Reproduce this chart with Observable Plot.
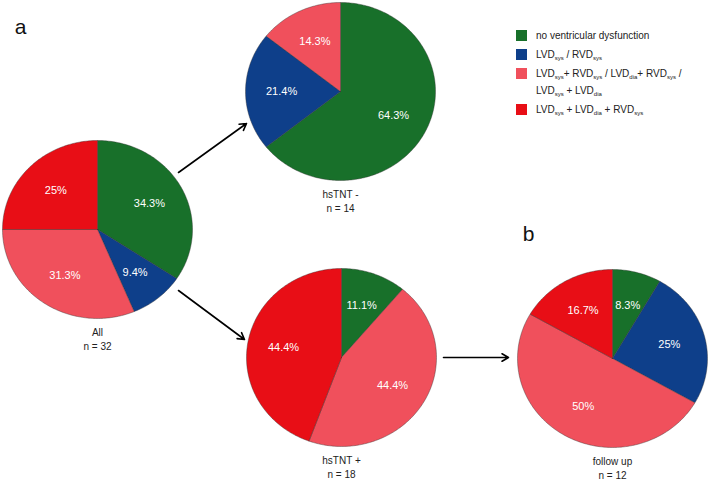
<!DOCTYPE html>
<html>
<head>
<meta charset="utf-8">
<script src="https://cdn.jsdelivr.net/npm/d3@7"></script>
<script src="https://cdn.jsdelivr.net/npm/@observablehq/plot@0.6"></script>
<style>
  html, body { margin: 0; padding: 0; background: #fff; }
  #wrap { position: relative; width: 708px; height: 480px; font-family: "Liberation Sans", Arial, sans-serif; }
  #legend { position: absolute; left: 516px; top: 27px; font-size: 10px; color: #222; line-height: 17px; }
  .row { display: flex; align-items: flex-start; margin-bottom: 2px; }
  .sw { width: 11px; height: 11px; margin-top: 3px; margin-right: 9px; flex: none; }
  sub { font-size: 6px; vertical-align: -2px; line-height: 0; }
</style>
</head>
<body>
<div id="wrap"></div>
<script>
// ---- data ----
const categories = ["no ventricular dysfunction", "LVDsys / RVDsys", "LVDsys + RVDsys / LVDdia + RVDsys / LVDsys + LVDdia", "LVDsys + LVDdia + RVDsys"];
const colors = ["#18702a", "#0e3f8a", "#f0505c", "#e80e16"];
const groups = ["All", "hsTNT -", "hsTNT +", "follow up"];
const groupN = [32, 14, 18, 12];
const allValues = [34.3, 9.4, 31.3, 25];
const hsTNTnegValues = [64.3, 21.4, 14.3, 0];
const hsTNTposValues = [11.1, 0, 44.4, 44.4];
const followUpValues = [8.3, 25, 50, 16.7];
const groupValues = [allValues, hsTNTnegValues, hsTNTposValues, followUpValues];
const panelLetters = ["a", "b"];

// ---- layout (pixel space) ----
const W = 708, H = 480;
const centers = [[97, 229], [340, 91], [341, 357], [612, 358]];
const RX = 95, RY = 89;
const arrows = [
  {x1: 178, y1: 172, x2: 246, y2: 123},
  {x1: 178, y1: 290, x2: 244, y2: 339},
  {x1: 443, y1: 357, x2: 508, y2: 357}
];
const letterPos = [[20, 27], [528, 234]];

// ---- build wedges ----
const wedges = [], labels = [], captions = [];
groups.forEach((g, gi) => {
  const [cx, cy] = centers[gi];
  const vals = groupValues[gi];
  const total = d3.sum(vals);
  let acc = 0;
  vals.forEach((v, ci) => {
    if (v <= 0) return;
    const a0 = acc / total * 2 * Math.PI;
    acc += v;
    const a1 = acc / total * 2 * Math.PI;
    const id = g + "|" + ci;
    wedges.push({id, cat: categories[ci], x: cx, y: cy});
    const steps = Math.max(2, Math.ceil((a1 - a0) / (Math.PI / 180)));
    for (let s = 0; s <= steps; s++) {
      const a = a0 + (a1 - a0) * s / steps;
      wedges.push({id, cat: categories[ci], x: cx + RX * Math.sin(a), y: cy - RY * Math.cos(a)});
    }
    wedges.push({id, cat: categories[ci], x: cx, y: cy});
    const am = (a0 + a1) / 2;
    labels.push({x: cx + 0.62 * RX * Math.sin(am), y: cy - 0.62 * RY * Math.cos(am), text: v + "%"});
  });
  captions.push({x: cx, y: cy + RY + 14, text: g});
  captions.push({x: cx, y: cy + RY + 28, text: "n = " + groupN[gi]});
});
const letters = panelLetters.map((t, i) => ({x: letterPos[i][0], y: letterPos[i][1], text: t}));

const font = "Liberation Sans, Arial, sans-serif";
const chart = Plot.plot({
  width: W, height: H, margin: 0,
  x: {domain: [0, W], range: [0, W], axis: null},
  y: {domain: [0, H], range: [0, H], axis: null},
  color: {domain: categories, range: colors},
  style: {fontFamily: font, background: "white"},
  marks: [
    Plot.line(wedges, {x: "x", y: "y", z: "id", fill: "cat", stroke: "#333", strokeWidth: 0.5, strokeOpacity: 0.8, curve: "linear"}),
    Plot.text(labels, {x: "x", y: "y", text: "text", fill: "white", fontSize: 11}),
    Plot.text(captions, {x: "x", y: "y", text: "text", fill: "#222", fontSize: 10}),
    Plot.text(letters, {x: "x", y: "y", text: "text", fill: "#111", fontSize: 21}),
    Plot.arrow(arrows, {x1: "x1", y1: "y1", x2: "x2", y2: "y2", stroke: "black", strokeWidth: 1.6, headLength: 7, bend: 0})
  ]
});
const wrap = document.getElementById("wrap");
wrap.appendChild(chart);

// legend (HTML for subscripts)
const legendHTML = [
  "no ventricular dysfunction",
  "LVD<sub>sys</sub> / RVD<sub>sys</sub>",
  "LVD<sub>sys</sub>+ RVD<sub>sys</sub> / LVD<sub>dia</sub>+ RVD<sub>sys</sub> /<br>LVD<sub>sys</sub> + LVD<sub>dia</sub>",
  "LVD<sub>sys</sub> + LVD<sub>dia</sub> + RVD<sub>sys</sub>"
];
const leg = document.createElement("div");
leg.id = "legend";
categories.forEach((c, i) => {
  const row = document.createElement("div");
  row.className = "row";
  const sw = document.createElement("div");
  sw.className = "sw";
  sw.style.background = colors[i];
  const t = document.createElement("div");
  t.innerHTML = legendHTML[i];
  row.appendChild(sw); row.appendChild(t);
  leg.appendChild(row);
});
wrap.appendChild(leg);
</script>
</body>
</html>
